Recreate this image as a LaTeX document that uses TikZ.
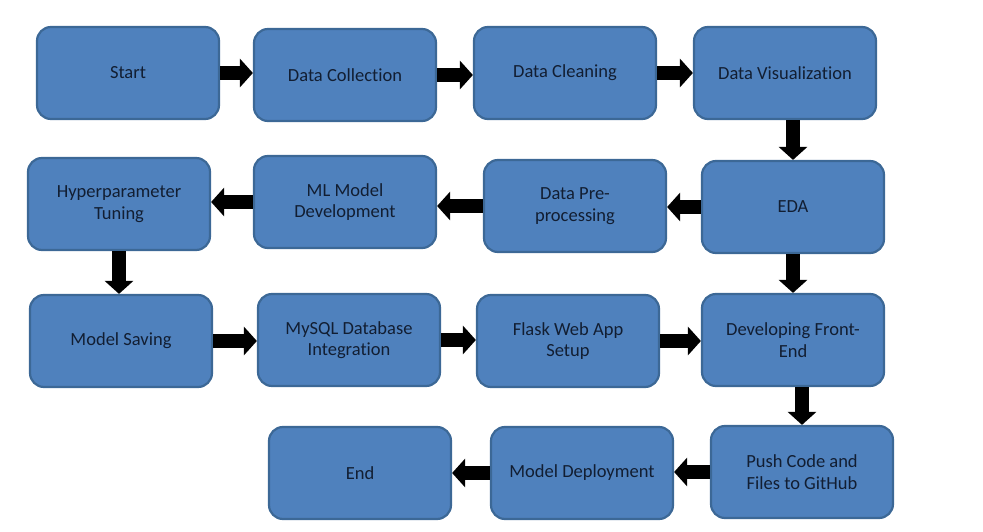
\documentclass[tikz,border=0pt]{standalone}
\usepackage{fontspec}
\setmainfont{Carlito}[Ligatures=NoCommon]
\usetikzlibrary{arrows.meta,positioning}

\definecolor{boxfill}{RGB}{79,129,189}
\definecolor{boxline}{RGB}{60,104,150}
\definecolor{boxtext}{RGB}{18,30,50}

\tikzset{
    stepbox/.style={draw=boxline, line width=2.2pt, fill=boxfill, rounded corners=14pt,
        minimum width=182pt, minimum height=92pt, align=center, text=boxtext,
        font=\fontsize{18.5}{21.5}\selectfont},
    blockarrow/.style={-{Triangle[width=28pt,length=13pt]}, line width=14pt, black}
}

\begin{document}
\begin{tikzpicture}[x=1pt, y=-1pt]
        \useasboundingbox (0,0) rectangle (983,532);

        % Row 1
        \node[stepbox] (start) at (128, 73) {Start};
        \node[stepbox] (collect) at (345, 75) {Data Collection};
        \node[stepbox] (clean) at (565, 73) {Data Cleaning};
        \node[stepbox] (viz) at (785, 73) {Data Visualization};

        % Row 2
        \node[stepbox] (hyper) at (119, 204) {Hyperparameter\\Tuning};
        \node[stepbox] (mldev) at (345, 202) {ML Model\\Development};
        \node[stepbox] (prep) at (575, 206) {Data Pre-\\processing};
        \node[stepbox] (eda) at (793, 207) {EDA};

        % Row 3
        \node[stepbox] (saving) at (121, 341) {Model Saving};
        \node[stepbox] (mysql) at (349, 340) {MySQL Database\\Integration};
        \node[stepbox] (flask) at (568, 341) {Flask Web App\\Setup};
        \node[stepbox] (front) at (793, 340) {Developing Front-\\End};

        % Row 4
        \node[stepbox] (finish) at (360, 473) {End};
        \node[stepbox] (deploy) at (582, 473) {Model Deployment};
        \node[stepbox] (push) at (802, 472) {Push Code and\\Files to GitHub};

        % Arrows
        \draw[blockarrow] (start.east) -- (collect.west |- start.east);
        \draw[blockarrow] (collect.east) -- (clean.west |- collect.east);
        \draw[blockarrow] (clean.east) -- (viz.west |- clean.east);
        \draw[blockarrow] (eda.north |- viz.south) -- (eda.north);
        \draw[blockarrow] (eda.west) -- (prep.east |- eda.west);
        \draw[blockarrow] (prep.west) -- (mldev.east |- prep.west);
        \draw[blockarrow] (mldev.west) -- (hyper.east |- mldev.west);
        \draw[blockarrow] (hyper.south) -- (hyper.south |- saving.north);
        \draw[blockarrow] (saving.east) -- (mysql.west |- saving.east);
        \draw[blockarrow] (mysql.east) -- (flask.west |- mysql.east);
        \draw[blockarrow] (flask.east) -- (front.west |- flask.east);
        \draw[blockarrow] (eda.south) -- (front.north);
        \draw[blockarrow] (push.north |- front.south) -- (push.north);
        \draw[blockarrow] (push.west) -- (deploy.east |- push.west);
        \draw[blockarrow] (deploy.west) -- (finish.east |- deploy.west);
    \end{tikzpicture}
\end{document}
